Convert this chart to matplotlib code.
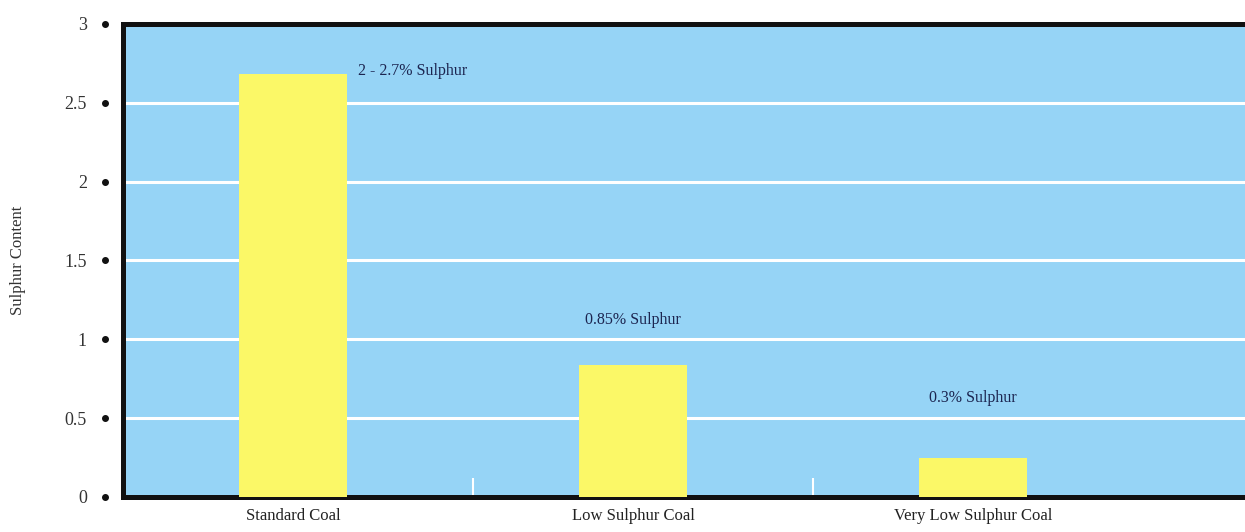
import numpy as np
import matplotlib.pyplot as plt
import matplotlib.transforms as mtransforms

#------------------data------------------
categories = ["Standard Coal", "Low Sulphur Coal", "Very Low Sulphur Coal"]
sulphur = [2.68, 0.84, 0.25]
bar_notes = ["2 - 2.7% Sulphur", "0.85% Sulphur", "0.3% Sulphur"]
y_ticks = [0, 0.5, 1, 1.5, 2, 2.5, 3]
y_tick_labels = ["0", "0.5", "1", "1.5", "2", "2.5", "3"]
#----------------------------------------

plt.rcParams['font.family'] = ['Liberation Serif', 'DejaVu Serif']

fig = plt.figure(figsize=(12.45, 5.32), dpi=100)
ax = fig.add_axes([0.0988, 0.0658, 0.9012, 0.8892])
ax.set_facecolor('#96d4f6')

x = np.arange(len(categories))
bar_w = 0.32
ax.bar(x, sulphur, width=bar_w, color='#fbf867', zorder=3)

ax.set_ylim(0, 3)
ax.set_xlim(-0.5, 2.8)

# white gridlines
for yv in y_ticks[1:-1]:
    ax.axhline(yv, color='white', lw=2.2, zorder=2)

# spines
for s in ['left', 'top', 'bottom']:
    ax.spines[s].set_linewidth(3.6)
    ax.spines[s].set_color('#111111')
ax.spines['right'].set_visible(False)

# y ticks drawn as dots
ax.set_yticks(y_ticks)
ax.set_yticklabels(y_tick_labels, fontsize=13, color='#333333')
ax.tick_params(axis='y', length=0, pad=26)
trans = mtransforms.blended_transform_factory(ax.transAxes, ax.transData)
ax.scatter([-0.016] * len(y_ticks), y_ticks, s=16, color='#111111',
           transform=trans, clip_on=False, zorder=5)

# x ticks
ax.set_xticks(x)
ax.set_xticklabels(categories, fontsize=12, color='#222222')
ax.tick_params(axis='x', length=0, pad=8)
ax.set_xticks(x[:-1] + 0.53, minor=True)
ax.tick_params(axis='x', which='minor', direction='in', length=14,
               width=1.5, color='white')

ax.set_ylabel("Sulphur Content", fontsize=12, color='#333333', labelpad=28)

# notes on the bars
ax.text(x[0] + bar_w / 2 + 0.03, sulphur[0] + 0.02, bar_notes[0],
        ha='left', va='center', fontsize=11.5, color='#1c2550', zorder=4)
ax.text(x[1], sulphur[1] + 0.28, bar_notes[1],
        ha='center', va='center', fontsize=11.5, color='#1c2550', zorder=4)
ax.text(x[2], sulphur[2] + 0.38, bar_notes[2],
        ha='center', va='center', fontsize=11.5, color='#1c2550', zorder=4)

plt.savefig("out.png", dpi=100)
